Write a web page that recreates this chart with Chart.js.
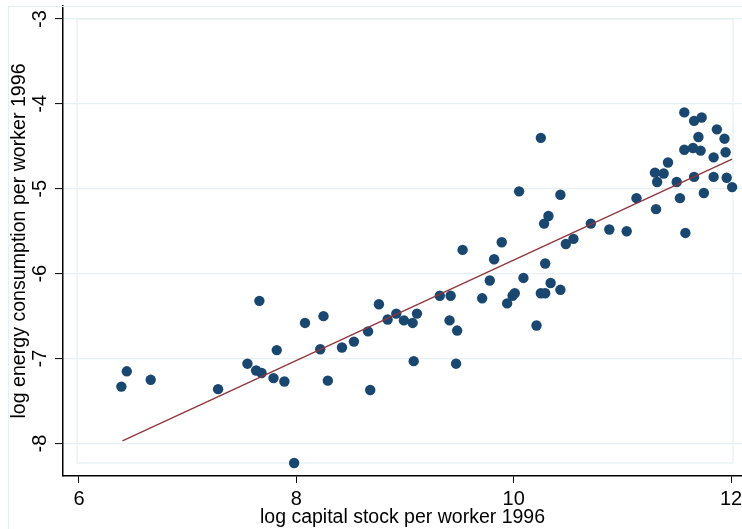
<!DOCTYPE html>
<html>
<head>
<meta charset="utf-8">
<script src="https://cdn.jsdelivr.net/npm/chart.js@4"></script>
<style>
    html, body { margin: 0; padding: 0; background: #ffffff; }
    #wrap { width: 742px; height: 529px; }
</style>
</head>
<body>
<div id="wrap"><canvas id="chart" width="742" height="529"></canvas></div>
<script>
// log capital stock per worker 1996
const capitalValues = [
    6.39, 6.44, 6.66, 7.28, 7.55, 7.63, 7.68, 7.66, 7.79, 7.82,
    7.89, 7.98, 8.08, 8.22, 8.25, 8.29, 8.42, 8.53, 8.66, 8.68,
    8.76, 8.84, 8.92, 8.99, 9.07, 9.11, 9.08, 9.32, 9.42, 9.41,
    9.48, 9.47, 9.53, 9.71, 9.78, 9.82, 9.89, 9.94, 9.99, 10.01,
    10.05, 10.09, 10.21, 10.25, 10.25, 10.29, 10.28, 10.29, 10.32, 10.34,
    10.43, 10.43, 10.48, 10.55, 10.71, 10.88, 11.04, 11.13, 11.30, 11.31,
    11.32, 11.38, 11.42, 11.50, 11.53, 11.57, 11.57, 11.58, 11.65, 11.66,
    11.66, 11.70, 11.72, 11.73, 11.75, 11.84, 11.84, 11.87, 11.94, 11.95,
    11.96, 12.01
];
// log energy consumption per worker 1996
const energyValues = [
    -7.33, -7.15, -7.25, -7.36, -7.06, -7.14, -7.17, -6.32, -7.23, -6.90,
    -7.27, -8.23, -6.58, -6.89, -6.50, -7.26, -6.87, -6.80, -6.68, -7.37,
    -6.36, -6.54, -6.47, -6.55, -6.58, -6.47, -7.03, -6.26, -6.26, -6.55,
    -6.67, -7.06, -5.72, -6.29, -6.08, -5.83, -5.63, -6.35, -6.26, -6.23,
    -5.03, -6.05, -6.61, -4.40, -6.23, -6.23, -5.41, -5.88, -5.32, -6.11,
    -5.07, -6.19, -5.65, -5.59, -5.41, -5.48, -5.50, -5.11, -4.81, -5.24,
    -4.92, -4.82, -4.69, -4.92, -5.11, -4.54, -4.10, -5.52, -4.52, -4.86,
    -4.20, -4.39, -4.55, -4.16, -5.05, -4.86, -4.63, -4.30, -4.41, -4.57,
    -4.87, -4.98
];
// fitted line end points
const fitX = [6.40, 12.01];
const fitY = [-7.97, -4.65];

const xTicks = [6, 8, 10, 12];
const yTicks = [-8, -7, -6, -5, -4, -3];

const xTitle = 'log capital stock per worker 1996';
const yTitle = 'log energy consumption per worker 1996';

const fontFamily = "'Liberation Sans', Arial, Helvetica, sans-serif";

// stata style frames: outer graph region and inner plot region
const frames = {
    id: 'frames',
    beforeDatasetsDraw(chart) {
        const ctx = chart.ctx;
        const x = chart.scales.x;
        const y = chart.scales.y;
        ctx.save();
        ctx.strokeStyle = '#e6eff1';
        ctx.lineWidth = 1.2;
        ctx.beginPath();
        ctx.moveTo(8.5, chart.height);
        ctx.lineTo(8.5, 6.5);
        ctx.lineTo(chart.width, 6.5);
        ctx.stroke();
        const l = x.getPixelForValue(5.982);
        const r = x.getPixelForValue(12.018);
        const t = y.getPixelForValue(-3);
        const b = y.getPixelForValue(-8.23);
        ctx.strokeRect(l, t, r - l, b - t);
        ctx.restore();
    }
};

const noPadding = s => {
    s.paddingLeft = 0;
    s.paddingRight = 0;
    s.paddingTop = 0;
    s.paddingBottom = 0;
};

const ctx = document.getElementById('chart').getContext('2d');
new Chart(ctx, {
    type: 'scatter',
    data: {
        datasets: [
            {
                type: 'line',
                data: fitX.map((v, i) => ({ x: v, y: fitY[i] })),
                borderColor: '#90353b',
                borderWidth: 1.3,
                pointRadius: 0,
                fill: false,
                order: 0
            },
            {
                data: capitalValues.map((v, i) => ({ x: v, y: energyValues[i] })),
                backgroundColor: '#1a476f',
                borderColor: '#1a476f',
                borderWidth: 0,
                pointRadius: 5.2,
                order: 1
            }
        ]
    },
    options: {
        responsive: false,
        animation: false,
        layout: { autoPadding: false, padding: { top: 6, right: 0, left: 0, bottom: 0 } },
        plugins: {
            legend: { display: false },
            tooltip: { enabled: false }
        },
        scales: {
            x: {
                type: 'linear',
                min: 5.853,
                max: 12.101,
                afterBuildTicks: s => { s.ticks = xTicks.map(v => ({ value: v })); },
                afterFit: s => { s.height = 53; noPadding(s); },
                border: { color: '#000000', width: 1.5 },
                grid: {
                    drawOnChartArea: false,
                    drawTicks: true,
                    tickLength: 7,
                    tickColor: '#000000',
                    tickWidth: 1
                },
                ticks: {
                    color: '#000000',
                    padding: 4,
                    maxRotation: 0,
                    font: { family: fontFamily, size: 20 }
                },
                title: {
                    display: true,
                    text: xTitle,
                    color: '#000000',
                    padding: { top: 0, bottom: 0 },
                    font: { family: fontFamily, size: 19.5 }
                }
            },
            y: {
                type: 'linear',
                min: -8.383,
                max: -2.847,
                afterBuildTicks: s => { s.ticks = yTicks.map(v => ({ value: v })); },
                afterFit: s => { s.width = 63; noPadding(s); },
                border: { color: '#000000', width: 1.5 },
                grid: {
                    color: '#e6eff1',
                    lineWidth: 1.2,
                    drawTicks: true,
                    tickLength: 8,
                    tickColor: '#000000',
                    tickWidth: 1
                },
                ticks: {
                    color: '#000000',
                    padding: 6,
                    minRotation: 90,
                    maxRotation: 90,
                    crossAlign: 'center',
                    font: { family: fontFamily, size: 20 }
                },
                title: {
                    display: true,
                    text: yTitle,
                    color: '#000000',
                    padding: { top: 8, bottom: 0 },
                    font: { family: fontFamily, size: 19.6 }
                }
            }
        }
    },
    plugins: [frames]
});
</script>
</body>
</html>
